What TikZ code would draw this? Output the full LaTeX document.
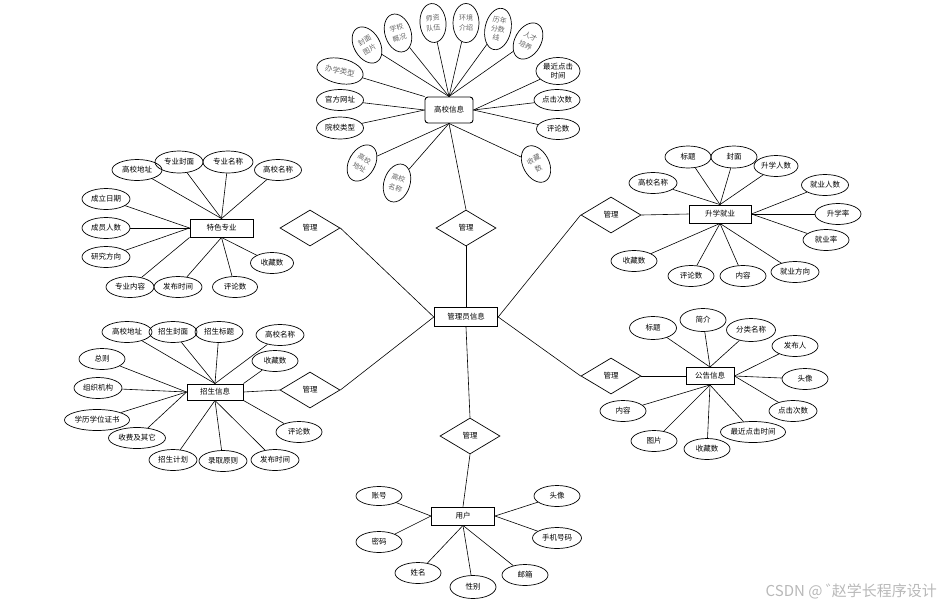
\documentclass[tikz,border=0pt]{standalone}
\usepackage{fontspec}
\newfontfamily\cjk{Noto Sans CJK SC}
\usetikzlibrary{shapes.geometric}
\begin{document}
\begin{tikzpicture}[x=1pt,y=-1pt,
  every node/.style={font=\cjk\fontsize{7.5}{9}\selectfont, inner sep=0.5pt},
  attr/.style={ellipse, draw, line width=0.7pt, minimum width=46pt, minimum height=21pt},
  tattr/.style={ellipse, draw, line width=0.7pt, minimum width=26pt, minimum height=39pt, align=center, text=black!60, font=\cjk\fontsize{7}{10}\selectfont},
  ent/.style={rectangle, draw, line width=0.9pt, minimum width=62pt, minimum height=18pt},
  rel/.style={diamond, draw, line width=0.7pt, minimum width=60pt, minimum height=36pt},
  lk/.style={line width=0.6pt}]
\useasboundingbox (0,0) rectangle (942,606);

% ---------- top cluster: 高校信息 ----------
\node[ent, rounded corners=3pt, minimum width=48pt, minimum height=26pt] (hx) at (449,110) {高校信息};
\node[tattr, rotate=30] (a1) at (367,45) {封面\\图片};
\node[tattr, rotate=18] (a2) at (398,33) {学校\\概况};
\node[tattr, rotate=5] (a3) at (433,23) {师资\\队伍};
\node[tattr] (a4) at (466,23) {环境\\介绍};
\node[tattr, rotate=-12, minimum height=42pt, font=\cjk\fontsize{7}{9}\selectfont] (a5) at (498,29) {历年\\分数\\线};
\node[tattr, rotate=-30] (a6) at (528,41) {人才\\培养};
\node[attr, rotate=-12, minimum width=47pt, minimum height=25pt, text=black!60] (a7) at (340,71) {办学类型};
\node[tattr, rotate=-30] (a8) at (362,163) {高校\\地址};
\node[tattr, rotate=-18] (a9) at (397,183) {高校\\名称};
\node[tattr, rotate=28] (a10) at (536,164) {收藏\\数};
\node[attr, minimum width=47pt] (a11) at (340,100) {官方网址};
\node[attr, minimum width=47pt, minimum height=22pt] (a12) at (340,128) {院校类型};
\node[attr, align=center, minimum width=44pt, minimum height=27pt] (a13) at (558,71) {最近点击\\时间};
\node[attr] (a14) at (557,100) {点击次数};
\node[attr, minimum width=43pt] (a15) at (558,129) {评论数};
\foreach \n in {a1,a2,a3,a4,a5,a6} \draw[lk] (\n) -- (hx.north);
\draw[lk] (a7) -- (hx.north west);
\foreach \n in {a11,a12} \draw[lk] (\n) -- (hx.west);
\foreach \n in {a13,a14,a15} \draw[lk] (\n) -- (hx.east);
\foreach \n in {a8,a9,a10} \draw[lk] (\n) -- (hx.south);

% ---------- central ----------
\node[ent, line width=1.4pt, minimum width=63pt, minimum height=19pt] (adm) at (466,317) {管理员信息};
\node[rel] (dtop) at (466,228) {管理};
\node[rel] (dlu) at (310,228) {管理};
\node[rel] (dld) at (310,390) {管理};
\node[rel] (dru) at (611,215) {管理};
\node[rel] (drd) at (611,376) {管理};
\node[rel] (dbot) at (470,436) {管理};
\draw[lk] (dtop.north) -- (hx.south);
\draw[lk] (dtop.south) -- (adm.north);
\draw[lk] (dlu.east) -- (adm.west);
\draw[lk] (dld.east) -- (adm.west);
\draw[lk] (dru.west) -- (adm.east);
\draw[lk] (drd.west) -- (adm.east);
\draw[lk] (adm.south) -- (dbot.north);

% ---------- 特色专业 ----------
\node[ent, minimum width=63pt] (ts) at (221.5,228) {特色专业};
\node[attr, minimum width=50pt] (b1) at (137,170) {高校地址};
\node[attr, minimum width=48pt, minimum height=22pt] (b2) at (179,162) {专业封面};
\node[attr, minimum width=50pt, minimum height=22pt] (b3) at (228,162) {专业名称};
\node[attr, minimum width=47pt] (b4) at (278,170) {高校名称};
\node[attr, minimum width=48pt] (b5) at (106,199) {成立日期};
\node[attr, minimum width=48pt] (b6) at (106,228) {成员人数};
\node[attr, minimum width=48pt] (b7) at (106,257) {研究方向};
\node[attr, minimum width=48pt] (b8) at (130,287) {专业内容};
\node[attr, minimum width=48pt] (b9) at (178,287) {发布时间};
\node[attr, minimum width=45pt] (b10) at (235,287) {评论数};
\node[attr, minimum width=43pt] (b11) at (272,263) {收藏数};
\foreach \n in {b1,b2,b3,b4} \draw[lk] (\n) -- (ts.north);
\foreach \n in {b5,b6,b7} \draw[lk] (\n) -- (ts.west);
\draw[lk] (b8) -- (ts.south west);
\foreach \n in {b9,b10,b11} \draw[lk] (\n) -- (ts.south);

% ---------- 升学就业 ----------
\node[ent] (sx) at (720,214) {升学就业};
\node[attr, minimum height=22pt] (c1) at (688,157) {标题};
\node[attr, minimum height=22pt] (c2) at (734,157) {封面};
\node[attr, minimum width=44pt] (c3) at (776,166) {升学人数};
\node[attr, minimum width=48pt] (c4) at (653,183) {高校名称};
\node[attr, minimum width=47pt] (c5) at (825,185) {就业人数};
\node[attr] (c6) at (838,214) {升学率};
\node[attr] (c7) at (826,240) {就业率};
\node[attr, minimum width=48pt] (c8) at (795,272) {就业方向};
\node[attr] (c9) at (743,276) {内容};
\node[attr] (c10) at (691,276) {评论数};
\node[attr] (c11) at (634,261) {收藏数};
\foreach \n in {c1,c2,c3,c4} \draw[lk] (\n) -- (sx.north);
\foreach \n in {c5,c6,c7} \draw[lk] (\n) -- (sx.east);
\foreach \n in {c8,c9,c10,c11} \draw[lk] (\n) -- (sx.south);
\draw[lk] (dru.east) -- (sx.west);

% ---------- 招生信息 ----------
\node[ent, minimum width=56pt, minimum height=16pt] (zs) at (215,392) {招生信息};
\node[attr, minimum width=50pt] (d1) at (127,332) {高校地址};
\node[attr, minimum width=48pt] (d2) at (173,332) {招生封面};
\node[attr, minimum width=48pt] (d3) at (219,332) {招生标题};
\node[attr, minimum width=48pt] (d4) at (280,335) {高校名称};
\node[attr] (d5) at (275,361) {收藏数};
\node[attr] (d6) at (102,359) {总则};
\node[attr, minimum width=48pt] (d7) at (98,388) {组织机构};
\node[attr, minimum width=65pt] (d8) at (97,420) {学历学位证书};
\node[attr, minimum width=57pt] (d9) at (137,438) {收费及其它};
\node[attr, minimum width=48pt] (d10) at (173,460) {招生计划};
\node[attr, minimum width=48pt] (d11) at (223,461) {录取原则};
\node[attr, minimum width=48pt] (d12) at (275,460) {发布时间};
\node[attr] (d13) at (299,432) {评论数};
\foreach \n in {d1,d2,d3,d4} \draw[lk] (\n) -- (zs.north);
\draw[lk] (d5) -- (zs.north east);
\foreach \n in {d6,d7,d8,d9} \draw[lk] (\n) -- (zs.west);
\foreach \n in {d10,d11,d12} \draw[lk] (\n) -- (zs.south);
\draw[lk] (d13) -- (zs.south east);
\draw[lk] (zs.east) -- (dld.west);

% ---------- 公告信息 ----------
\node[ent, minimum width=48pt, minimum height=17pt] (gg) at (710,376) {公告信息};
\node[attr, minimum width=47pt, minimum height=23pt] (e1) at (653,328) {标题};
\node[attr, minimum height=23pt] (e2) at (703,320) {简介};
\node[attr, minimum width=49pt, minimum height=23pt] (e3) at (751,330) {分类名称};
\node[attr] (e4) at (795,346) {发布人};
\node[attr] (e5) at (805,379) {头像};
\node[attr, minimum width=48pt] (e6) at (793,411) {点击次数};
\node[attr, minimum width=64pt] (e7) at (753,432) {最近点击时间};
\node[attr] (e8) at (707,449) {收藏数};
\node[attr] (e9) at (654,441) {图片};
\node[attr] (e10) at (623,411) {内容};
\foreach \n in {e1,e2,e3} \draw[lk] (\n) -- (gg.north);
\foreach \n in {e4,e5,e6} \draw[lk] (\n) -- (gg.east);
\foreach \n in {e7,e8,e9,e10} \draw[lk] (\n) -- (gg.south);
\draw[lk] (drd.east) -- (gg.west);

% ---------- 用户 ----------
\node[ent, minimum width=63pt] (us) at (463,516) {用户};
\node[attr, minimum height=19pt] (f1) at (379,496) {账号};
\node[attr] (f2) at (379,542) {密码};
\node[attr] (f3) at (418,573) {姓名};
\node[attr, minimum height=23pt] (f4) at (473,587) {性别};
\node[attr] (f5) at (525,575) {邮箱};
\node[attr] (f6) at (557,496) {头像};
\node[attr, minimum width=49pt] (f7) at (557,538) {手机号码};
\foreach \n in {f1,f2} \draw[lk] (\n) -- (us.west);
\foreach \n in {f3,f4,f5} \draw[lk] (\n) -- (us.south);
\foreach \n in {f6,f7} \draw[lk] (\n) -- (us.east);
\draw[lk] (dbot.south) -- (us.north);

% ---------- watermark ----------
\node[anchor=base east, font=\cjk\fontsize{15}{17}\selectfont, text=black!28, inner sep=0pt] (wm) at (937,596) {CSDN @ ゛\kern-9pt 赵学长程序设计};
\end{tikzpicture}
\end{document}
